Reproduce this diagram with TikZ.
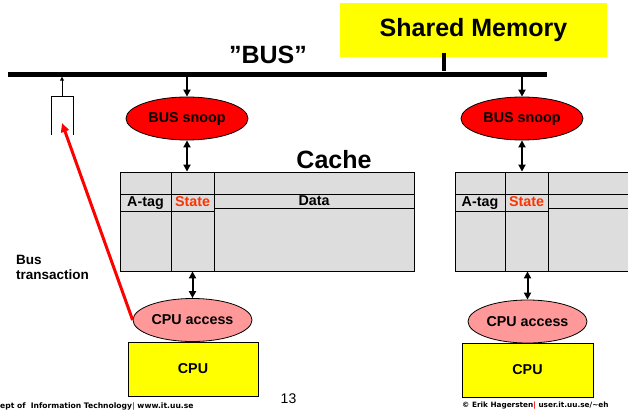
\documentclass[tikz,border=0pt]{standalone}
\usepackage{fontspec}
\setmainfont{Liberation Sans}
\newfontfamily\footfont{DejaVu Sans}
\usetikzlibrary{shapes.geometric,arrows.meta}
\definecolor{memyellow}{RGB}{255,255,0}
\definecolor{snoopred}{RGB}{255,0,0}
\definecolor{accpink}{RGB}{255,153,153}
\definecolor{cachegray}{RGB}{221,221,221}
\definecolor{stateorange}{RGB}{255,51,0}
\tikzset{
  lbl/.style={font=\fontsize{14.3}{16}\selectfont\bfseries, inner sep=0pt},
  biglbl/.style={font=\fontsize{25}{28}\selectfont\bfseries, inner sep=0pt},
  snoopell/.style={ellipse, draw=black, fill=snoopred, line width=0.8pt, minimum width=122pt, minimum height=43pt, inner sep=0pt, font=\fontsize{14.3}{16}\selectfont\bfseries},
  accell/.style={ellipse, draw=black, fill=accpink, line width=0.8pt, minimum width=119pt, minimum height=43pt, inner sep=0pt, font=\fontsize{14.3}{16}\selectfont\bfseries},
  cpubox/.style={rectangle, draw=black, fill=memyellow, line width=0.8pt, minimum width=130pt, minimum height=54pt, inner sep=0pt, font=\fontsize{14.3}{16}\selectfont\bfseries},
  cachebox/.style={rectangle, draw=black, fill=cachegray, line width=0.8pt, inner sep=0pt},
  cell/.style={rectangle, draw=black, line width=1pt, inner sep=0pt, text height=10pt, text depth=3pt, font=\fontsize{14.3}{16}\selectfont\bfseries},
  thickarr/.style={line width=2pt, -{Triangle[width=7pt,length=7pt]}},
  dblarr/.style={line width=2pt, {Triangle[width=7pt,length=7pt]}-{Triangle[width=7pt,length=7pt]}},
  footer/.style={font=\footfont\fontsize{7.6}{8}\selectfont\bfseries, inner sep=0pt, anchor=west}
}
\begin{document}
\begin{tikzpicture}[x=1pt,y=-1pt]
\useasboundingbox (0,0) rectangle (628,412);
\clip (0,0) rectangle (628,412);
% shared memory
\node[rectangle, fill=memyellow, minimum width=267pt, minimum height=54pt, inner sep=0pt] (mem) at (473.5,30) {};
\node[biglbl] (memtxt) at (473.5,30) {Shared Memory};
% bus
\node[rectangle, fill=black, minimum width=539pt, minimum height=5pt, inner sep=0pt] (bus) at (277.5,74) {};
\coordinate (mc) at (444,53);
\draw[line width=3.5pt] (mc) -- (mc |- bus.north);
\node[biglbl] (buslbl) at (268,55) {”BUS”};
% transaction box
\coordinate (txtop) at (62,96);
\draw[line width=0.7pt] (51,135) -- (51,96) -- (73,96) -- (73,135);
\draw[line width=1pt, -{Triangle[width=4pt,length=4pt]}] (txtop) -- (txtop |- bus.south);
% snoops
\node[snoopell] (snoop1) at (187,118.5) {BUS snoop};
\node[snoopell] (snoop2) at (522,118.5) {BUS snoop};
\draw[thickarr] (snoop1.north |- bus.south) -- (snoop1.north);
\draw[thickarr] (snoop2.north |- bus.south) -- (snoop2.north);
% left cache
\node[cachebox, minimum width=294pt, minimum height=99pt] (cacheL) at (267,221.5) {};
\draw[line width=0.8pt] (171,172) -- (171,271);
\draw[line width=0.8pt] (214,172) -- (214,271);
\node[cell, minimum width=200pt, minimum height=14pt] (data1) at (314,201) {};
\node[lbl] at (data1) {Data};
\node[cell, minimum width=51pt, minimum height=17pt] (atag1) at (145.5,202.5) {A-tag};
\node[cell, minimum width=43pt, minimum height=17pt, text=stateorange] (state1) at (192.5,202.5) {State};
\node[biglbl] (cachelbl) at (334,160) {Cache};
% right cache
\node[cachebox, minimum width=200pt, minimum height=99pt] (cacheR) at (555,221.5) {};
\draw[line width=0.8pt] (505,172) -- (505,271);
\draw[line width=0.8pt] (548,172) -- (548,271);
\node[cell, minimum width=100pt, minimum height=14pt] (data2) at (598,201) {};
\node[cell, minimum width=50pt, minimum height=17pt] (atag2) at (480,202.5) {A-tag};
\node[cell, minimum width=43pt, minimum height=17pt, text=stateorange] (state2) at (526.5,202.5) {State};
% snoop-cache arrows
\draw[dblarr] (snoop1.south) -- (snoop1.south |- cacheL.north);
\draw[dblarr] (snoop2.south) -- (snoop2.south |- cacheR.north);
% cpu access
\node[accell] (acc1) at (192.5,320) {CPU access};
\node[accell] (acc2) at (527.5,321.5) {CPU access};
\draw[dblarr] (acc1.north |- cacheL.south) -- (acc1.north);
\draw[dblarr] (acc2.north |- cacheR.south) -- (acc2.north);
% cpus
\node[cpubox] (cpu1) at (193,369) {CPU};
\node[cpubox, minimum width=131pt] (cpu2) at (527.5,370) {CPU};
% red bus transaction arrow
\coordinate (txin) at (62,123);
\draw[draw=snoopred, line width=3pt, -{Triangle[width=8pt,length=9pt]}] (acc1.west) -- (txin);
\node[lbl, align=left, anchor=north west, font=\fontsize{13.5}{15.5}\selectfont\bfseries] (bustx) at (16,255) {Bus\\transaction};
% footers
\node[footer] (foot1) at (0,406) {ept of\ \ Information Technology{\color{snoopred}|} www.it.uu.se};
\node[inner sep=0pt, font=\fontsize{14}{16}\selectfont] (pagenum) at (288.5,399) {13};
\node[footer, font=\footfont\fontsize{7.3}{8}\selectfont\bfseries] (foot2) at (462,406) {© Erik Hagersten{\color{snoopred}|} user.it.uu.se/\textasciitilde eh};
\end{tikzpicture}
\end{document}
